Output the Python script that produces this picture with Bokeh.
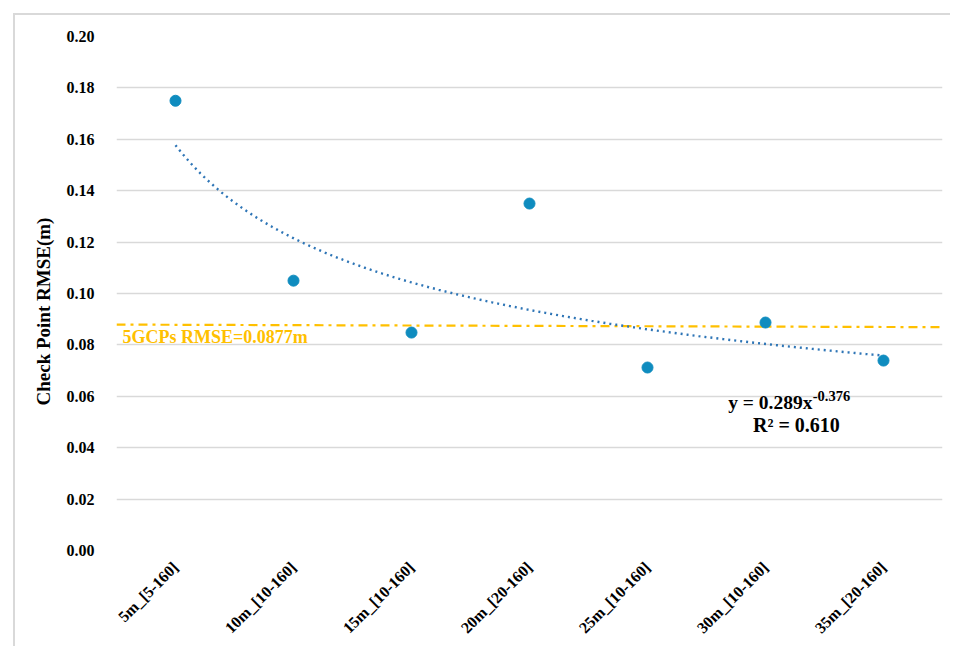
import numpy as np
from math import pi
from bokeh.plotting import figure
from bokeh.models import Range1d, FixedTicker, Title
from bokeh.core.properties import value
from bokeh.embed import file_html
from bokeh.resources import INLINE

# ---- data ----
categories = ["5m_[5-160]", "10m_[10-160]", "15m_[10-160]", "20m_[20-160]",
              "25m_[10-160]", "30m_[10-160]", "35m_[20-160]"]
heights = [5, 10, 15, 20, 25, 30, 35]
rmse = [0.175, 0.105, 0.0848, 0.135, 0.0712, 0.0887, 0.0739]
ref_x = [2.5, 37.5]
ref_rmse = [0.0879, 0.0869]
ref_label = "5GCPs RMSE=0.0877m"
eq_text = "y = 0.289x"
eq_exp = "-0.376"
r2_text = "R² = 0.610"
y_title = "Check Point RMSE(m)"
y_ticks = [0.00, 0.02, 0.04, 0.06, 0.08, 0.10, 0.12, 0.14, 0.16, 0.18, 0.20]

# power trendline fitted from the data (log-log least squares)
b, lna = np.polyfit(np.log(heights), np.log(rmse), 1)
a = float(np.exp(lna))
trend_x = np.linspace(heights[0], heights[-1], 200)
trend_y = a * trend_x ** b

FONT = "Liberation Serif"

p = figure(width=950, height=646, output_backend="svg", toolbar_location=None,
           x_range=Range1d(2.5, 37.5), y_range=Range1d(0, 0.2),
           min_border_left=116, min_border_right=8, min_border_top=36,
           min_border_bottom=96)
# light chart-area border (left and top) painted behind a transparent canvas
p.styles = {
    "background": ("linear-gradient(#D9D9D9, #D9D9D9) 13px 13px / 2px 100% no-repeat, "
                   "linear-gradient(#D9D9D9, #D9D9D9) 13px 13px / 100% 2px no-repeat, white"),
}
p.outline_line_color = None
p.background_fill_color = "white"
p.border_fill_color = None

# axes
p.xaxis.ticker = FixedTicker(ticks=heights)
p.xaxis.major_label_overrides = {h: c for h, c in zip(heights, categories)}
p.xaxis.major_label_orientation = pi / 4
p.xaxis.axis_line_color = None
p.xaxis.major_tick_line_color = None
p.xaxis.minor_tick_line_color = None
p.xaxis.major_label_text_font = FONT
p.xaxis.major_label_text_font_style = "bold"
p.xaxis.major_label_text_font_size = "16px"
p.xaxis.major_label_text_color = "black"
p.xaxis.major_label_standoff = 8
p.xgrid.grid_line_color = None

p.yaxis.ticker = FixedTicker(ticks=y_ticks)
p.yaxis.major_label_overrides = {t: f"{t:.2f}" for t in y_ticks}
p.yaxis.axis_line_color = None
p.yaxis.major_tick_line_color = None
p.yaxis.minor_tick_line_color = None
p.yaxis.major_label_text_font = FONT
p.yaxis.major_label_text_font_style = "bold"
p.yaxis.major_label_text_font_size = "16px"
p.yaxis.major_label_text_color = "black"
p.yaxis.major_label_standoff = 16
p.ygrid.grid_line_color = "#D9D9D9"
p.ygrid.grid_line_width = 1.3

# y axis title as a side title, anchored from the bottom of the frame
p.add_layout(Title(text=y_title, align="left", offset=145, text_font=FONT,
                   text_font_style="bold", text_font_size="19px",
                   text_color="black", standoff=20), "left")

# reference line
p.line(ref_x, ref_rmse, line_color="#FFC000", line_width=2.2, line_dash="9 5 3 5")
p.text(x=[2.75], y=[0.0829], text=[ref_label], text_font=value(FONT),
       text_font_style="bold", text_font_size="18px", text_color="#FFC000",
       text_baseline="middle", text_align="left")

# trendline
p.line(trend_x, trend_y, line_color="#2E75B6", line_width=2.4, line_dash="2 4")

# points
p.scatter(heights, rmse, size=11, fill_color="#0F8CBF", line_color="#0F8CBF")

# equation
p.text(x=[31.99], y=[0.0576], text=[eq_text], text_font=value(FONT),
       text_font_style="bold", text_font_size="19.5px", text_color="black",
       text_baseline="middle", text_align="right")
p.text(x=[32.0], y=[0.0603], text=[eq_exp], text_font=value(FONT),
       text_font_style="bold", text_font_size="14.5px", text_color="black",
       text_baseline="middle", text_align="left")
p.text(x=[31.31], y=[0.049], text=[r2_text], text_font=value(FONT),
       text_font_style="bold", text_font_size="20px", text_color="black",
       text_baseline="middle", text_align="center")

open("out.html", "w").write(file_html(p, INLINE))
